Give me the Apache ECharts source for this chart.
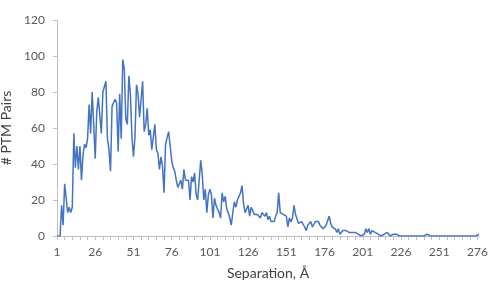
<!DOCTYPE html>
<html>
<head>
<meta charset="utf-8">
<script src="https://cdn.jsdelivr.net/npm/echarts@6/dist/echarts.min.js"></script>
<style>
  html, body { margin: 0; padding: 0; background: #fff; }
  #chart { width: 500px; height: 286px; }
</style>
</head>
<body>
<div id="chart"></div>
<script>
// separation bins 1..277 (Å)
var separation = []
for (var s = 1; s <= 277; s++) separation.push(String(s))

// number of PTM pairs per separation bin
var ptmPairs = [
  0, 0, 0, 17, 6, 29, 21, 13, 16, 13,
  16, 57, 38, 50, 37, 50, 31, 45, 51, 49,
  54, 73, 57, 80, 62, 43, 69, 77, 67, 57,
  80, 81, 86, 54, 48, 36, 72, 73, 76, 74,
  47, 79, 54, 98, 93, 65, 62, 89, 79, 55,
  44, 55, 84, 79, 66, 76, 86, 58, 62, 71,
  56, 59, 48, 49, 62, 48, 46, 37, 44, 39,
  24, 51, 52, 58, 50, 42, 38, 36, 31, 27,
  26, 31, 26, 37, 31, 30, 31, 20, 33, 30,
  35, 23, 20, 20, 42, 34, 20, 26, 13, 23,
  26, 23, 10, 21, 17, 15, 13, 10, 24, 19,
  22, 15, 13, 10, 6, 13, 19, 16, 20, 22,
  24, 28, 18, 13, 15, 17, 11, 16, 14, 12,
  13, 12, 11, 10, 13, 13, 11, 13, 9, 11,
  8, 9, 8, 11, 13, 24, 13, 14, 12, 13,
  11, 5, 10, 8, 10, 17, 12, 11, 7, 7,
  8, 9, 5, 3, 6, 7, 8, 5, 6, 8,
  9, 8, 6, 6, 4, 5, 6, 5, 11, 7,
  5, 4, 4, 2, 4, 1, 2, 3, 3, 3,
  3, 2, 2, 2, 1, 2, 1, 1, 1, 0,
  1, 1, 4, 2, 4, 1, 3, 2, 2, 2,
  1, 1, 0, 0, 1, 1, 2, 1, 0, 0,
  1, 2, 1, 1, 0, 0, 0, 0, 0, 1,
  0, 0, 0, 0, 0, 0, 0, 0, 0, 0,
  0, 0, 1, 0, 0, 0, 0, 0, 0, 0,
  0, 0, 0, 0, 0, 0, 0, 0, 0, 0,
  0, 1, 0, 0, 0, 0, 0, 1, 0, 0,
  0, 0, 0, 0, 0, 0, 1
]

var yTicks = { min: 0, max: 120, step: 20 }

var font = 'Lato, "Open Sans", sans-serif'
var myChart = echarts.init(document.getElementById('chart'))

var option = {
  animation: false,
  textStyle: { fontFamily: font },
  grid: { left: 57, right: 21, top: 20, bottom: 50, containLabel: false, outerBoundsMode: 'none' },
  xAxis: {
    type: 'category',
    boundaryGap: false,
    data: separation,
    name: 'Separation, Å',
    nameLocation: 'middle',
    nameGap: 30,
    nameTextStyle: { fontSize: 14, color: '#404040', fontFamily: font },
    axisLine: { lineStyle: { color: '#bfbfbf', width: 1 } },
    axisTick: { show: true, interval: 4, length: 4, lineStyle: { color: '#bfbfbf' } },
    axisLabel: { interval: 24, color: '#595959', fontSize: 12, margin: 10, fontFamily: font },
    splitLine: { show: false }
  },
  yAxis: {
    type: 'value',
    min: yTicks.min,
    max: yTicks.max,
    interval: yTicks.step,
    name: '# PTM Pairs',
    nameLocation: 'middle',
    nameGap: 32,
    nameRotate: 90,
    nameTextStyle: { fontSize: 14, color: '#404040', fontFamily: font },
    axisLine: { show: true, lineStyle: { color: '#bfbfbf', width: 1 } },
    axisTick: { show: true, length: 4, lineStyle: { color: '#bfbfbf' } },
    axisLabel: { color: '#595959', fontSize: 12, margin: 12, fontFamily: font },
    splitLine: { show: false }
  },
  series: [
    {
      name: '# PTM Pairs',
      type: 'line',
      data: ptmPairs,
      showSymbol: false,
      symbol: 'none',
      lineStyle: { color: '#4472c4', width: 1.5 },
      itemStyle: { color: '#4472c4' }
    }
  ]
}

myChart.setOption(option)
</script>
</body>
</html>
